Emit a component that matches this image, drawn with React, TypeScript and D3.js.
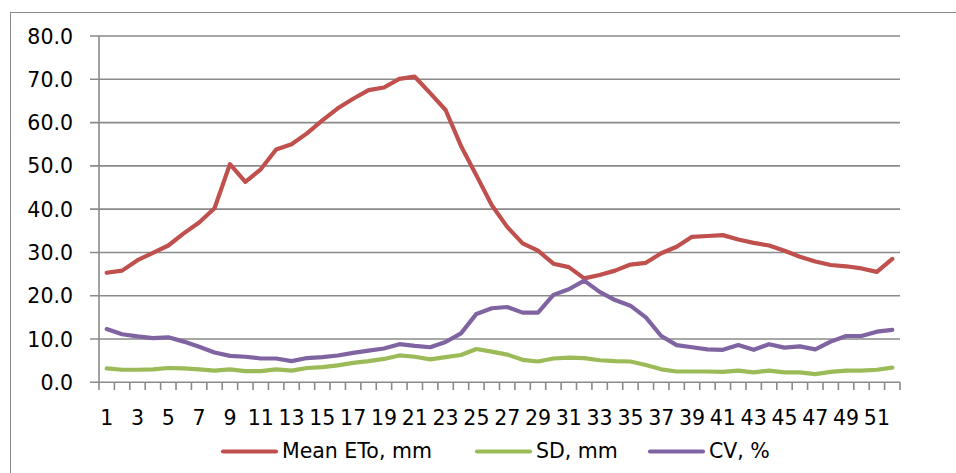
import React from "react";
import * as d3 from "d3";

const categories: string[] = Array.from({ length: 52 }, (_, i) => String(i + 1));
const xTickLabels: string[] = categories.filter((_, i) => i % 2 === 0);
const yTicks: number[] = [0, 10, 20, 30, 40, 50, 60, 70, 80];

const meanEto: number[] = [25.3, 25.8, 28.2, 29.9, 31.6, 34.4, 36.9, 40.2, 50.4, 46.3, 49.2, 53.8, 55.0, 57.5, 60.5, 63.3, 65.5, 67.5, 68.1, 70.1, 70.6, 66.8, 62.9, 54.6, 47.8, 40.9, 35.9, 32.1, 30.4, 27.4, 26.6, 24.0, 24.8, 25.8, 27.2, 27.6, 29.8, 31.3, 33.6, 33.8, 34.0, 33.0, 32.2, 31.6, 30.4, 29.0, 27.9, 27.1, 26.8, 26.3, 25.5, 28.5];
const sd: number[] = [3.2, 2.9, 2.9, 3.0, 3.3, 3.2, 3.0, 2.7, 3.0, 2.6, 2.6, 3.0, 2.7, 3.3, 3.5, 3.9, 4.5, 4.9, 5.4, 6.2, 5.9, 5.3, 5.8, 6.3, 7.7, 7.1, 6.4, 5.2, 4.8, 5.5, 5.7, 5.6, 5.1, 4.9, 4.8, 4.0, 3.0, 2.5, 2.5, 2.5, 2.4, 2.7, 2.3, 2.7, 2.3, 2.3, 1.9, 2.4, 2.7, 2.7, 2.9, 3.4];
const cv: number[] = [12.3, 11.1, 10.6, 10.2, 10.4, 9.4, 8.2, 6.9, 6.1, 5.9, 5.5, 5.5, 4.9, 5.6, 5.8, 6.2, 6.8, 7.3, 7.8, 8.8, 8.4, 8.1, 9.3, 11.3, 15.8, 17.1, 17.4, 16.1, 16.1, 20.2, 21.5, 23.5, 20.9, 19.0, 17.7, 15.0, 10.7, 8.6, 8.1, 7.6, 7.5, 8.6, 7.5, 8.8, 8.0, 8.3, 7.6, 9.4, 10.7, 10.7, 11.7, 12.1];

const seriesNames: string[] = ["Mean ETo, mm", "SD, mm", "CV, %"];
const seriesColors: string[] = ["#C0504D", "#9BBB59", "#8064A2"];
const seriesValues: number[][] = [meanEto, sd, cv];

const W = 956;
const H = 473;
const FONT = "'DejaVu Sans', sans-serif";
const GRID = "#8a8a8a";

export default function App() {
  const x = d3.scaleBand<string>().domain(categories).range([99, 900]).padding(0);
  const y = d3.scaleLinear().domain([0, 80]).range([382.3, 36]);
  const cx = (c: string) => (x(c) as number) + x.bandwidth() / 2;
  const line = d3
    .line<number>()
    .x((_, i) => cx(categories[i]))
    .y((d) => y(d));

  const boundaries = categories.map((c) => x(c) as number).concat([900]);

  const legendX = [223, 477, 650];

  return (
    <svg
      width={W}
      height={H}
      style={{ position: "absolute", left: 0, top: 0, background: "#fff" }}
      fontFamily={FONT}
    >
      <rect x={10.5} y={12.5} width={1000} height={1000} fill="none" stroke={GRID} strokeWidth={1} />
      {yTicks.map((t) => (
        <g key={t}>
          <line x1={90} x2={900} y1={y(t)} y2={y(t)} stroke={GRID} strokeWidth={1.6} />
          <text x={73} y={y(t) + 7.5} textAnchor="end" fontSize={20.5} fill="#000">
            {t.toFixed(1)}
          </text>
        </g>
      ))}
      <line x1={99} x2={99} y1={36} y2={382.3} stroke={GRID} strokeWidth={1.6} />
      {boundaries.map((b, i) => (
        <line key={i} x1={b} x2={b} y1={382.3} y2={390} stroke={GRID} strokeWidth={1.6} />
      ))}
      {xTickLabels.map((c) => (
        <text key={c} x={cx(c)} y={425} textAnchor="middle" fontSize={20.5} fill="#000">
          {c}
        </text>
      ))}
      {seriesValues.map((vals, k) => (
        <path
          key={k}
          d={line(vals) || ""}
          fill="none"
          stroke={seriesColors[k]}
          strokeWidth={4.2}
          strokeLinejoin="round"
          strokeLinecap="round"
        />
      ))}
      {seriesNames.map((n, k) => (
        <g key={n}>
          <line
            x1={legendX[k]}
            x2={legendX[k] + 53}
            y1={451.5}
            y2={451.5}
            stroke={seriesColors[k]}
            strokeWidth={4.2}
            strokeLinecap="round"
          />
          <text x={legendX[k] + 59} y={458} fontSize={20.5} fill="#000">
            {n}
          </text>
        </g>
      ))}
    </svg>
  );
}
